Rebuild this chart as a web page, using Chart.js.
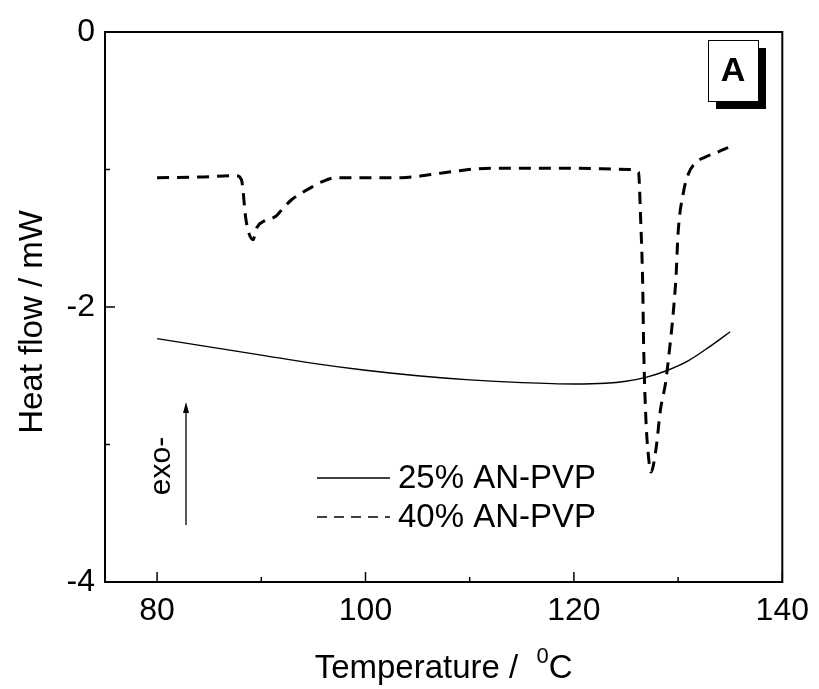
<!DOCTYPE html>
<html>
<head>
<meta charset="utf-8">
<script src="https://cdn.jsdelivr.net/npm/chart.js"></script>
<style>
  html, body { margin: 0; padding: 0; background: #fff; }
  #wrap { width: 819px; height: 689px; }
</style>
</head>
<body>
<div id="wrap"><canvas id="dscChart" width="819" height="689"></canvas></div>
<script>
// data
const temp25 = [80, 85, 90, 95, 100, 105, 110, 115, 120, 123, 125, 127, 129, 131, 133, 135];
const flow25 = [-2.23, -2.29, -2.35, -2.41, -2.46, -2.50, -2.53, -2.55, -2.56, -2.555, -2.54, -2.51, -2.46, -2.39, -2.29, -2.18];

const temp40 = [80, 84, 87.6, 88.1, 88.5, 88.8, 89.2, 89.6, 90.4, 91.4, 92.0, 92.9, 93.9, 94.8, 95.8, 97.1, 100, 103.5, 105, 106.9, 108.8, 110.7, 115, 120, 125.3, 126.2, 126.4, 126.6, 126.7, 126.9, 127.1, 127.4, 127.9, 128.3, 128.8, 129.1, 129.5, 129.8, 130.0, 130.5, 131.0, 131.7, 132.6, 133.9, 134.8];
const flow40 = [-1.06, -1.055, -1.045, -1.075, -1.35, -1.46, -1.51, -1.42, -1.37, -1.34, -1.29, -1.22, -1.17, -1.13, -1.09, -1.06, -1.06, -1.06, -1.05, -1.03, -1.01, -0.995, -0.99, -0.99, -1.0, -1.02, -1.35, -1.83, -2.31, -2.80, -3.04, -3.20, -3.02, -2.75, -2.55, -2.36, -2.07, -1.78, -1.46, -1.17, -1.03, -0.95, -0.91, -0.87, -0.84];

const seriesLabels = ['25% AN-PVP', '40% AN-PVP'];
const xTicks = [80, 90, 100, 110, 120, 130, 140];
const xLabelTicks = [80, 100, 120, 140];
const yTicks = [-4, -3, -2, -1, 0];
const yLabelTicks = [-4, -2, 0];

const FONT = '"Liberation Sans", Arial, sans-serif';

const toPoints = (xs, ys) => xs.map((x, i) => ({ x: x, y: ys[i] }));

const framePlugin = {
    id: 'frame',
    afterDraw(chart) {
        const ctx = chart.ctx;
        const a = chart.chartArea;
        const xs = chart.scales.x;
        const ys = chart.scales.y;
        ctx.save();
        ctx.strokeStyle = '#000';
        ctx.fillStyle = '#000';

        // box
        ctx.lineWidth = 2;
        ctx.strokeRect(a.left, a.top, a.right - a.left, a.bottom - a.top);

        // inward ticks
        ctx.lineWidth = 1.5;
        xTicks.forEach(v => {
            const px = xs.getPixelForValue(v);
            const len = xLabelTicks.includes(v) ? 10 : 5;
            ctx.beginPath();
            ctx.moveTo(px, a.bottom);
            ctx.lineTo(px, a.bottom - len);
            ctx.stroke();
        });
        yTicks.forEach(v => {
            const py = ys.getPixelForValue(v);
            const len = yLabelTicks.includes(v) ? 10 : 5;
            ctx.beginPath();
            ctx.moveTo(a.left, py);
            ctx.lineTo(a.left + len, py);
            ctx.stroke();
        });

        // axis titles
        ctx.textBaseline = 'alphabetic';
        ctx.font = '33px ' + FONT;
        const t1 = 'Temperature /  ';
        const t2 = '0';
        const t3 = 'C';
        const w1 = ctx.measureText(t1).width;
        ctx.font = '22px ' + FONT;
        const w2 = ctx.measureText(t2).width;
        ctx.font = '33px ' + FONT;
        const w3 = ctx.measureText(t3).width;
        let tx = (a.left + a.right) / 2 - (w1 + w2 + w3) / 2;
        const ty = 678;
        ctx.textAlign = 'left';
        ctx.fillText(t1, tx, ty);
        ctx.font = '22px ' + FONT;
        ctx.fillText(t2, tx + w1, ty - 15);
        ctx.font = '33px ' + FONT;
        ctx.fillText(t3, tx + w1 + w2, ty);

        ctx.save();
        ctx.translate(42, 322);
        ctx.rotate(-Math.PI / 2);
        ctx.textAlign = 'center';
        ctx.fillText('Heat flow / mW', 0, 0);
        ctx.restore();

        // "A" label box with shadow
        const bx = 708, by = 40, bw = 50, bh = 61;
        ctx.fillRect(bx + 8, by + 8, bw, bh);
        ctx.fillStyle = '#fff';
        ctx.fillRect(bx, by, bw, bh);
        ctx.fillStyle = '#000';
        ctx.lineWidth = 1;
        ctx.strokeRect(bx + 0.5, by + 0.5, bw, bh);
        ctx.font = 'bold 34px ' + FONT;
        ctx.textAlign = 'center';
        ctx.textBaseline = 'middle';
        ctx.fillText('A', bx + bw / 2, by + bh / 2 + 1);

        // exo arrow
        ctx.lineWidth = 1.3;
        ctx.beginPath();
        ctx.moveTo(186, 525);
        ctx.lineTo(186, 408);
        ctx.stroke();
        ctx.beginPath();
        ctx.moveTo(186, 402);
        ctx.lineTo(183, 413);
        ctx.lineTo(189, 413);
        ctx.closePath();
        ctx.fill();
        ctx.save();
        ctx.translate(170, 466);
        ctx.rotate(-Math.PI / 2);
        ctx.font = '30px ' + FONT;
        ctx.textAlign = 'center';
        ctx.textBaseline = 'alphabetic';
        ctx.fillText('exo-', 0, 0);
        ctx.restore();

        // legend
        const rows = [{ y: 478, dash: [], w: 1.3 }, { y: 517, dash: [10, 7], w: 1.6 }];
        rows.forEach((r, i) => {
            ctx.setLineDash(r.dash);
            ctx.lineWidth = r.w;
            ctx.beginPath();
            ctx.moveTo(317, r.y);
            ctx.lineTo(390, r.y);
            ctx.stroke();
            ctx.setLineDash([]);
            ctx.font = '33px ' + FONT;
            ctx.textAlign = 'left';
            ctx.textBaseline = 'middle';
            ctx.fillText(seriesLabels[i], 398, r.y + 1);
        });
        ctx.restore();
    }
};

new Chart(document.getElementById('dscChart'), {
    type: 'line',
    data: {
        datasets: [{
            label: seriesLabels[0],
            data: toPoints(temp25, flow25),
            borderColor: '#000',
            borderWidth: 1.4,
            pointRadius: 0,
            cubicInterpolationMode: 'monotone',
            fill: false
        }, {
            label: seriesLabels[1],
            data: toPoints(temp40, flow40),
            borderColor: '#000',
            borderWidth: 3,
            borderDash: [12, 8],
            pointRadius: 0,
            cubicInterpolationMode: 'monotone',
            fill: false
        }]
    },
    options: {
        responsive: false,
        animation: false,
        layout: { padding: { left: 0, top: 32, right: 34, bottom: 0 } },
        plugins: {
            legend: { display: false },
            tooltip: { enabled: false }
        },
        scales: {
            x: {
                type: 'linear',
                min: 75,
                max: 140,
                grid: { display: false, drawTicks: false },
                border: { display: false },
                afterBuildTicks: s => { s.ticks = xTicks.map(v => ({ value: v })); },
                afterFit: s => { s.height = 107; },
                ticks: {
                    autoSkip: false,
                    maxRotation: 0,
                    padding: 10,
                    color: '#000',
                    font: { family: FONT, size: 32 },
                    callback: v => xLabelTicks.includes(v) ? String(v) : ''
                }
            },
            y: {
                type: 'linear',
                min: -4,
                max: 0,
                grid: { display: false, drawTicks: false },
                border: { display: false },
                afterBuildTicks: s => { s.ticks = yTicks.map(v => ({ value: v })); },
                afterFit: s => { s.width = 105; },
                ticks: {
                    autoSkip: false,
                    padding: 10,
                    color: '#000',
                    font: { family: FONT, size: 32 },
                    callback: v => yLabelTicks.includes(v) ? String(v) : ''
                }
            }
        }
    },
    plugins: [framePlugin]
});
</script>
</body>
</html>
